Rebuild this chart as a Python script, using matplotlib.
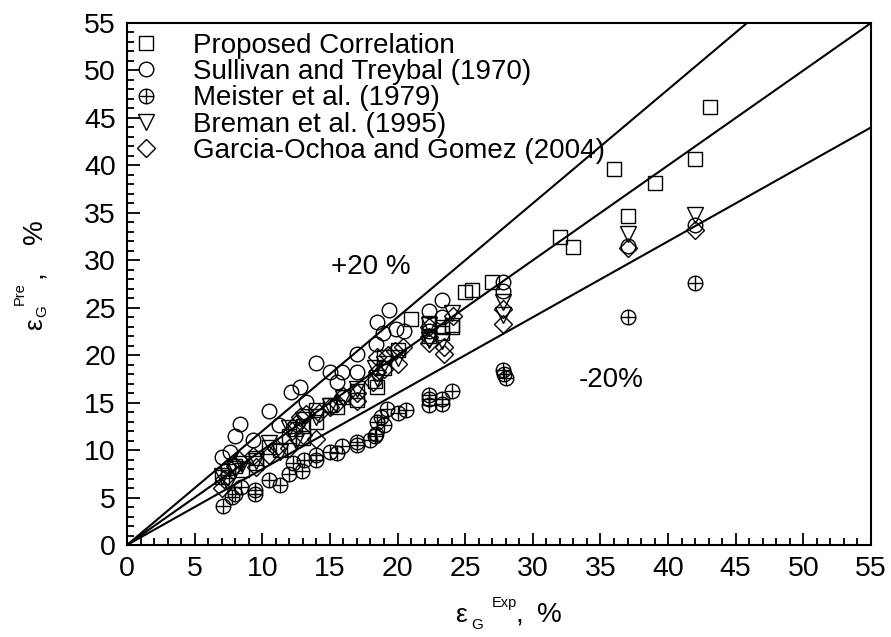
import matplotlib
matplotlib.use("Agg")
import matplotlib.pyplot as plt
import numpy as np
from matplotlib.path import Path

plt.rcParams['font.family'] = ['Liberation Sans', 'DejaVu Sans']

# ---- data (experimental, predicted) ----
prop_x = [7.0, 7.5, 8.0, 8.5, 9.5, 9.5, 10.5, 11.3, 12.0, 12.4, 13.0, 13.0, 14.0, 14.0, 15.0, 15.5,
          16.0, 17.0, 17.0, 18.3, 18.5, 19.0, 19.0, 20.0, 21.0, 22.3, 22.3, 23.3, 23.3, 24.0, 24.0,
          25.0, 25.5, 27.0, 32.0, 33.0, 36.0, 37.0, 39.0, 42.0, 43.1]
prop_y = [7.2, 7.8, 8.3, 7.9, 9.2, 8.6, 10.3, 10.0, 11.5, 12.2, 12.5, 11.3, 13.0, 14.2, 14.8, 14.5,
          15.6, 15.3, 16.2, 17.3, 16.7, 18.6, 19.8, 20.5, 23.8, 23.4, 22.0, 23.0, 22.3, 23.2, 23.0,
          26.7, 26.9, 27.7, 32.5, 31.4, 39.6, 34.7, 38.1, 40.7, 46.2]

sull_x = [7.0, 7.6, 8.0, 8.35, 9.3, 10.5, 11.2, 12.1, 12.8, 13.2, 14.0, 15.0, 15.5, 15.9, 17.0, 17.0,
          18.4, 18.5, 18.9, 19.4, 19.9, 20.5, 22.3, 22.3, 23.3, 23.3, 27.8, 27.8, 37.0, 42.0]
sull_y = [9.3, 9.8, 11.5, 12.7, 11.1, 14.1, 12.6, 16.1, 16.7, 15.1, 19.2, 18.2, 17.2, 18.2, 18.2, 20.1,
          21.2, 23.5, 22.3, 24.8, 22.8, 22.6, 24.7, 22.6, 25.8, 24.0, 27.7, 26.8, 31.5, 33.7]

meis_x = [7.07, 7.74, 8.0, 8.4, 9.46, 9.46, 10.5, 11.3, 12.0, 12.3, 12.9, 13.1, 14.0, 14.0, 15.0, 15.5,
          15.9, 17.0, 17.0, 18.0, 18.3, 18.4, 18.5, 18.8, 19.0, 19.2, 20.0, 20.6, 22.3, 22.3, 22.3,
          23.3, 23.3, 24.0, 27.8, 27.9, 28.0, 37.0, 42.0]
meis_y = [4.1, 5.1, 5.4, 6.1, 5.4, 5.8, 6.8, 6.3, 7.5, 8.6, 7.8, 9.0, 9.0, 9.5, 9.8, 9.7,
          10.4, 10.5, 10.9, 11.1, 11.5, 11.7, 13.0, 13.5, 12.6, 14.3, 13.9, 14.2, 14.8, 15.4, 15.8,
          14.9, 15.4, 16.2, 18.4, 18.0, 17.6, 24.0, 27.6]

brem_x = [7.0, 7.5, 8.0, 8.5, 9.5, 10.5, 11.3, 12.0, 12.5, 13.0, 14.0, 15.0, 16.0, 17.0, 18.3, 18.5,
          19.0, 20.0, 22.3, 22.3, 23.3, 24.0, 27.8, 27.8, 37.0, 42.0]
brem_y = [7.3, 6.5, 8.0, 8.5, 8.8, 10.7, 9.8, 12.3, 11.0, 13.2, 13.5, 14.6, 15.5, 16.4, 18.7, 17.6,
          19.1, 19.7, 23.2, 21.6, 21.5, 24.4, 25.6, 24.2, 32.8, 34.8]

garc_x = [7.0, 7.2, 7.5, 8.0, 8.3, 9.5, 9.3, 10.5, 11.0, 12.0, 12.2, 12.5, 12.8, 13.0, 13.2, 14.0,
          14.2, 15.0, 15.5, 16.0, 17.0, 17.0, 18.2, 18.5, 18.5, 19.0, 19.3, 20.0, 20.4, 19.8,
          22.3, 22.3, 22.3, 23.4, 23.4, 24.1, 27.8, 27.8, 37.0, 42.0]
garc_y = [6.0, 7.0, 8.2, 8.3, 9.0, 8.2, 9.4, 9.5, 10.2, 10.2, 12.0, 12.8, 13.5, 11.6, 13.8, 11.2,
          13.9, 14.5, 15.0, 15.7, 15.2, 16.0, 17.2, 19.8, 18.2, 18.5, 20.0, 19.1, 20.9, 20.4,
          23.0, 21.9, 21.3, 20.9, 20.1, 24.1, 24.9, 23.3, 31.3, 33.2]

labels = ['Proposed Correlation', 'Sullivan and Treybal (1970)', 'Meister et al. (1979)',
          'Breman et al. (1995)', 'Garcia-Ochoa and Gomez (2004)']
line_factors = [1.2, 1.0, 0.8]

W, H = 891, 637

# circle-with-cross marker
circ = Path.unit_circle()
cross = Path([[-1, 0], [1, 0], [0, -1], [0, 1]],
             [Path.MOVETO, Path.LINETO, Path.MOVETO, Path.LINETO])
oplus = Path.make_compound_path(circ, cross)

fig = plt.figure(figsize=(W / 100, H / 100), dpi=100)
ax = fig.add_axes([127 / W, 1 - 545 / H, 744 / W, 522 / H])

xs = np.array([0, 55])
for f in line_factors:
    ax.plot(xs, f * xs, color='black', lw=1.5, zorder=1)

common = dict(ls='none', mfc='none', mec='black', mew=1.0, zorder=3)
ax.plot(prop_x, prop_y, marker='s', ms=10, label=labels[0], **common)
ax.plot(sull_x, sull_y, marker='o', ms=10.5, label=labels[1], **common)
ax.plot(meis_x, meis_y, marker=oplus, ms=10.5, label=labels[2], **common)
ax.plot(brem_x, brem_y, marker='v', ms=11.5, label=labels[3], **common)
ax.plot(garc_x, garc_y, marker='D', ms=9.5, label=labels[4], **common)

ax.set_xlim(0, 55)
ax.set_ylim(0, 55)
ax.set_xticks(np.arange(0, 56, 5))
ax.set_yticks(np.arange(0, 56, 5))
ax.set_xticks(np.arange(0, 56, 1), minor=True)
ax.set_yticks(np.arange(0, 56, 1), minor=True)
ax.tick_params(which='both', direction='in', top=False, right=False, labelsize=20.5, width=1.3)
ax.tick_params(which='major', length=9, pad=8)
ax.tick_params(which='minor', length=5)
for s in ax.spines.values():
    s.set_linewidth(1.5)


def ftext(px, py, s, size, rot=0):
    fig.text(px / W, 1 - py / H, s, fontsize=size, ha='left', va='baseline',
             rotation=rot, rotation_mode='anchor')


# x axis label: eps_G^Exp,  %
ftext(455, 622, 'ε', 19)
ftext(471, 629, 'G', 11)
ftext(492, 607, 'Exp', 10.5)
ftext(515, 622, ',', 20)
ftext(537, 622, '%', 20)

# y axis label (rotated)
ftext(42, 330, 'ε', 19, 90)
ftext(46, 317, 'G', 11, 90)
ftext(24, 305, 'Pre', 10.5, 90)
ftext(42, 278, ',', 20, 90)
ftext(42, 244, '%', 20, 90)

ax.text(18.0, 29.3, '+20 %', fontsize=20, ha='center', va='center')
ax.text(35.8, 17.4, '-20%', fontsize=20, ha='center', va='center')

leg = ax.legend(loc='upper left', bbox_to_anchor=(0, 0.991), frameon=False, fontsize=20,
                handletextpad=1.19, labelspacing=0.01, borderaxespad=0.0, handlelength=1.0,
                borderpad=0.18, markerscale=1.0)

fig.savefig('out.png', dpi=100)
